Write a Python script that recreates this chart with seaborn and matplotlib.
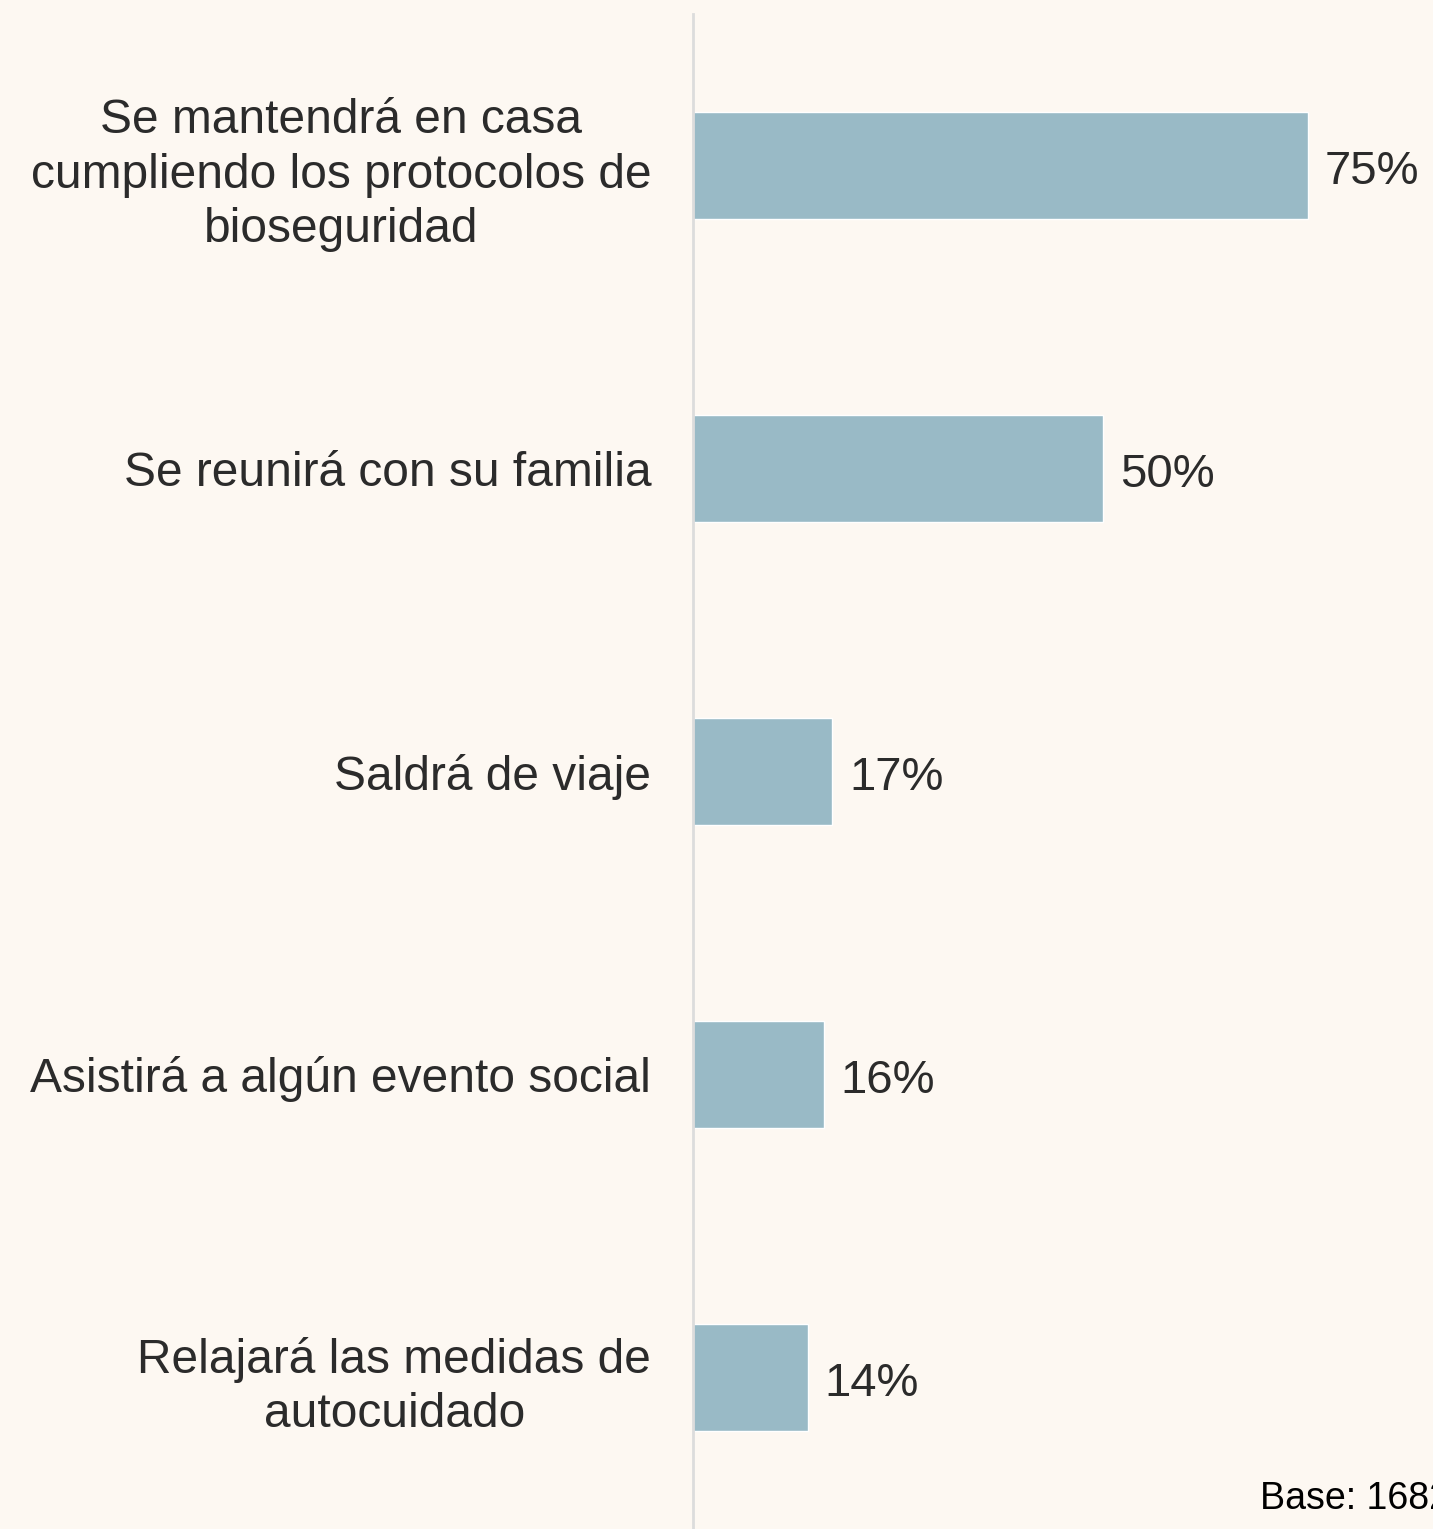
import matplotlib.pyplot as plt
import seaborn as sns
import pandas as pd

categories = [
    "Se mantendrá en casa\ncumpliendo los protocolos de\nbioseguridad",
    "Se reunirá con su familia",
    "Saldrá de viaje",
    "Asistirá a algún evento social",
    "Relajará las medidas de\nautocuidado",
]
values = [75, 50, 17, 16, 14]
base_note = "Base: 1682"

df = pd.DataFrame({"cat": categories, "val": values})

sns.set_style("white")
plt.rcParams["font.family"] = ["Liberation Sans", "DejaVu Sans"]

bg = "#fdf8f2"
fig = plt.figure(figsize=(14.33, 15.29), dpi=100, facecolor=bg)
ax = fig.add_axes([693 / 1433, 0, 740 / 1433, 1 - 14 / 1529])
ax.set_facecolor(bg)

sns.barplot(data=df, y="cat", x="val", orient="h", color="#99bac6",
            width=0.355, saturation=1, ax=ax)

# percentage labels
for i, v in enumerate(values):
    ax.text(v + 2, i + 0.02, f"{v}%", va="center", ha="left", fontsize=34, color="#2b2b2b")

ax.set_xlim(0, 90.2)
ax.set_ylim(4.5, -0.5)
ax.set_xlabel("")
ax.set_ylabel("")
ax.set_xticks([])
for s in ["top", "right", "bottom"]:
    ax.spines[s].set_visible(False)
ax.spines["left"].set_color("#dcdcdc")
ax.spines["left"].set_linewidth(2)
ax.tick_params(axis="y", length=0, pad=30)
for lbl in ax.get_yticklabels():
    lbl.set_fontsize(34.5)
    lbl.set_color("#2b2b2b")
    lbl.set_multialignment("center")
    lbl.set_linespacing(1.27)

fig.text(1260 / 1433, 1 - 1499 / 1529, base_note, ha="left", va="center",
         fontsize=27, color="black")

fig.savefig("out.png", dpi=100, facecolor=bg)
